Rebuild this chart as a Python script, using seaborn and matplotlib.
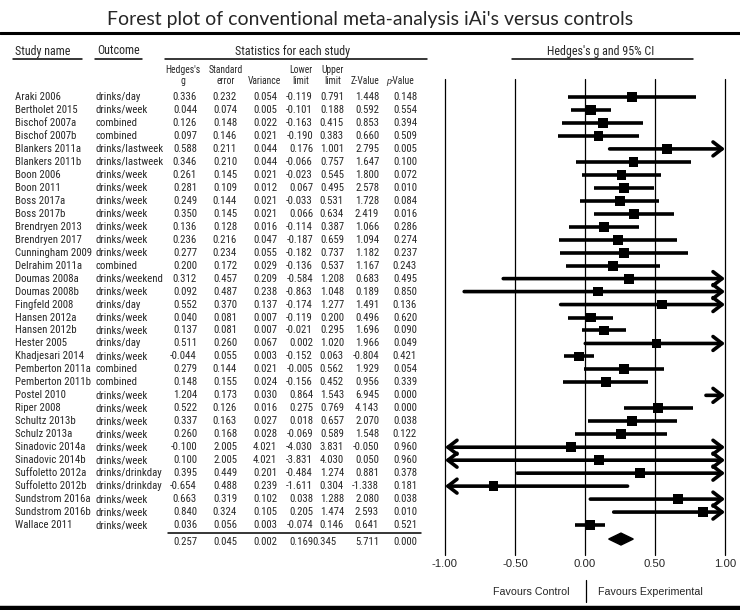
import numpy as np
import pandas as pd
import matplotlib
matplotlib.use("Agg")
import matplotlib.pyplot as plt
import matplotlib.transforms as mtransforms
from matplotlib.lines import Line2D
from matplotlib import font_manager
from matplotlib.textpath import TextPath
import seaborn as sns

studies = ["Araki 2006", "Bertholet 2015", "Bischof 2007a", "Bischof 2007b", "Blankers 2011a",
           "Blankers 2011b", "Boon 2006", "Boon 2011", "Boss 2017a", "Boss 2017b",
           "Brendryen 2013", "Brendryen 2017", "Cunningham 2009", "Delrahim 2011a", "Doumas 2008a",
           "Doumas 2008b", "Fingfeld 2008", "Hansen 2012a", "Hansen 2012b", "Hester 2005",
           "Khadjesari 2014", "Pemberton 2011a", "Pemberton 2011b", "Postel 2010", "Riper 2008",
           "Schultz 2013b", "Schulz 2013a", "Sinadovic 2014a", "Sinadovic 2014b", "Suffoletto 2012a",
           "Suffoletto 2012b", "Sundstrom 2016a", "Sundstrom 2016b", "Wallace 2011"]
outcomes = ["drinks/day", "drinks/week", "combined", "combined", "drinks/lastweek",
            "drinks/lastweek", "drinks/week", "drinks/week", "drinks/week", "drinks/week",
            "drinks/week", "drinks/week", "drinks/week", "combined", "drinks/weekend",
            "drinks/week", "drinks/day", "drinks/week", "drinks/week", "drinks/day",
            "drinks/week", "combined", "combined", "drinks/week", "drinks/week",
            "drinks/week", "drinks/week", "drinks/week", "drinks/week", "drinks/drinkday",
            "drinks/drinkday", "drinks/week", "drinks/week", "drinks/week"]
hedges_g = [0.336, 0.044, 0.126, 0.097, 0.588, 0.346, 0.261, 0.281, 0.249, 0.350,
            0.136, 0.236, 0.277, 0.200, 0.312, 0.092, 0.552, 0.040, 0.137, 0.511,
            -0.044, 0.279, 0.148, 1.204, 0.522, 0.337, 0.260, -0.100, 0.100, 0.395,
            -0.654, 0.663, 0.840, 0.036]
std_err = [0.232, 0.074, 0.148, 0.146, 0.211, 0.210, 0.145, 0.109, 0.144, 0.145,
           0.128, 0.216, 0.234, 0.172, 0.457, 0.487, 0.370, 0.081, 0.081, 0.260,
           0.055, 0.144, 0.155, 0.173, 0.126, 0.163, 0.168, 2.005, 2.005, 0.449,
           0.488, 0.319, 0.324, 0.056]
variance = [0.054, 0.005, 0.022, 0.021, 0.044, 0.044, 0.021, 0.012, 0.021, 0.021,
            0.016, 0.047, 0.055, 0.029, 0.209, 0.238, 0.137, 0.007, 0.007, 0.067,
            0.003, 0.021, 0.024, 0.030, 0.016, 0.027, 0.028, 4.021, 4.021, 0.201,
            0.239, 0.102, 0.105, 0.003]
lower = [-0.119, -0.101, -0.163, -0.190, 0.176, -0.066, -0.023, 0.067, -0.033, 0.066,
         -0.114, -0.187, -0.182, -0.136, -0.584, -0.863, -0.174, -0.119, -0.021, 0.002,
         -0.152, -0.005, -0.156, 0.864, 0.275, 0.018, -0.069, -4.030, -3.831, -0.484,
         -1.611, 0.038, 0.205, -0.074]
upper = [0.791, 0.188, 0.415, 0.383, 1.001, 0.757, 0.545, 0.495, 0.531, 0.634,
         0.387, 0.659, 0.737, 0.537, 1.208, 1.048, 1.277, 0.200, 0.295, 1.020,
         0.063, 0.562, 0.452, 1.543, 0.769, 0.657, 0.589, 3.831, 4.030, 1.274,
         0.304, 1.288, 1.474, 0.146]
z_value = [1.448, 0.592, 0.853, 0.660, 2.795, 1.647, 1.800, 2.578, 1.728, 2.419,
           1.066, 1.094, 1.182, 1.167, 0.683, 0.189, 1.491, 0.496, 1.696, 1.966,
           -0.804, 1.929, 0.956, 6.945, 4.143, 2.070, 1.548, -0.050, 0.050, 0.881,
           -1.338, 2.080, 2.593, 0.641]
p_value = [0.148, 0.554, 0.394, 0.509, 0.005, 0.100, 0.072, 0.010, 0.084, 0.016,
           0.286, 0.274, 0.237, 0.243, 0.495, 0.850, 0.136, 0.620, 0.090, 0.049,
           0.421, 0.054, 0.339, 0.000, 0.000, 0.038, 0.122, 0.960, 0.960, 0.378,
           0.181, 0.038, 0.010, 0.521]

summary_vals = [0.257, 0.045, 0.002, 0.169, 0.345, 5.711, 0.000]
xticks = [-1.0, -0.5, 0.0, 0.5, 1.0]

df = pd.DataFrame({"study": studies, "outcome": outcomes, "g": hedges_g, "se": std_err,
                   "var": variance, "lo": lower, "hi": upper, "z": z_value, "p": p_value})
df["row"] = np.arange(len(df))

sns.set_style("white")
plt.rcParams["font.family"] = ["Liberation Sans", "DejaVu Sans"]

# look for a narrow/condensed sans for the table (the original uses Arial Narrow look)
narrow_fp = None
wanted = ["liberationsansnarrow-regular", "arialnarrow", "robotocondensed-regular",
          "notosans-condensed.", "dejavusanscondensed.", "opensans-condensed"]
files = [f.fname for f in font_manager.fontManager.ttflist]
for key in wanted:
    hits = [fn for fn in files if key in fn.lower().replace(" ", "").replace("_", "")]
    if hits:
        narrow_fp = font_manager.FontProperties(fname=sorted(hits)[0])
        break
if narrow_fp is None:
    narrow_fp = font_manager.FontProperties(family="Liberation Sans")


def fit_size(fp, s, target_px):
    # font size (pt) that makes string s about target_px wide at 100 dpi
    w = TextPath((0, 0), s, size=10, prop=fp).get_extents().width * 100 / 72
    return 10 * target_px / w


def sized(fp, size):
    p = fp.copy()
    p.set_size(size)
    return p


body_size = (fit_size(narrow_fp, "Cunningham 2009", 70) + fit_size(narrow_fp, "0.336", 21.5)) / 2
body_fp = sized(narrow_fp, body_size * 1.07)
hdr_fp = sized(narrow_fp, fit_size(narrow_fp, "Statistics for each study", 114))
sub_fp = sized(narrow_fp, fit_size(narrow_fp, "Variance", 33))
title_fp = font_manager.FontProperties(family=["Lato", "DejaVu Sans"])
title_fp.set_size(fit_size(title_fp, "Forest plot of conventional meta-analysis iAi's versus controls", 521))

W, H = 740, 610
fig = plt.figure(figsize=(W / 100, H / 100), dpi=100)


def fx(px):
    return px / W


def fy(py):
    return 1 - py / H


# one row = 12.97 px, row 0 at y=97 px
ax = fig.add_axes([fx(445), fy(555), fx(725) - fx(445), (555 - 79) / H])
ax.set_xlim(-1, 1)
ax.set_ylim(35.31, -1.39)

for xv in xticks:
    ax.axvline(xv, color="black", lw=0.9, clip_on=False, zorder=1)

# CI lines, arrows where they leave the -1..1 window
for _, r in df.iterrows():
    left_out = r["lo"] < -1
    right_out = r["hi"] > 1
    x0 = max(r["lo"], -1)
    x1 = min(r["hi"], 1)
    if left_out and right_out:
        style = "<->"
    elif right_out:
        style = "->"
    elif left_out:
        style = "<-"
    else:
        style = None
    if style is None:
        ax.hlines(r["row"], x0, x1, color="black", lw=2.6, zorder=2)
    else:
        ax.annotate("", xy=(x1, r["row"]), xytext=(x0, r["row"]),
                    arrowprops=dict(arrowstyle=style + ",head_length=0.65,head_width=0.5",
                                    lw=2.6, color="black", shrinkA=0, shrinkB=0,
                                    mutation_scale=10),
                    annotation_clip=False, zorder=2)

sns.scatterplot(data=df, x="g", y="row", marker="s", s=50, color="black",
                edgecolor="none", ax=ax, zorder=3, legend=False)

# summary diamond
sg, slo, shi = summary_vals[0], summary_vals[3], summary_vals[4]
ys = 34.08
ax.fill([slo, sg, shi, sg], [ys, ys - 0.46, ys, ys + 0.46], color="black", zorder=3)

ax.set_xticks(xticks)
ax.set_xticklabels(["%.2f" % v for v in xticks], fontsize=8.2)
ax.tick_params(axis="x", length=0, pad=3)
ax.set_yticks([])
ax.set_xlabel("")
ax.set_ylabel("")
for sp in ax.spines.values():
    sp.set_visible(False)
ax.patch.set_alpha(0)

# table
trans = mtransforms.blended_transform_factory(fig.transFigure, ax.transData)
body = dict(fontproperties=body_fp, va="center", transform=trans, clip_on=False)
num_cols = ["g", "se", "var", "lo", "hi", "z", "p"]
right_edges = [197, 237, 277, 313, 344, 379, 417]
for _, r in df.iterrows():
    ax.text(fx(15), r["row"], r["study"], ha="left", **body)
    ax.text(fx(96), r["row"], r["outcome"], ha="left", **body)
    for col, xr in zip(num_cols, right_edges):
        ax.text(fx(xr), r["row"], "%.3f" % r[col], ha="right", **body)

srow = 34.31
sum_x = [197, 237, 277, 313, 312.5, 379, 417]
sum_ha = ["right", "right", "right", "right", "left", "right", "right"]
for v, xr, ha in zip(summary_vals, sum_x, sum_ha):
    ax.text(fx(xr), srow, "%.3f" % v, ha=ha, **body)

fig.add_artist(Line2D([fx(168), fx(421)], [fy(533), fy(533)], color="black", lw=1.1))

# headers
hdr = dict(fontproperties=hdr_fp, va="center")
fig.text(fx(15), fy(51), "Study name", ha="left", **hdr)
fig.text(fx(97), fy(51), "Outcome", ha="left", **hdr)
fig.text(fx(293), fy(51), "Statistics for each study", ha="center", **hdr)
fig.text(fx(601), fy(51), "Hedges's g and 95% CI", ha="center", **hdr)
for a, b in [(13, 82), (95, 142), (165, 427), (512, 693)]:
    fig.add_artist(Line2D([fx(a), fx(b)], [fy(58.5), fy(58.5)], color="black", lw=1.1))

sub = dict(fontproperties=sub_fp, va="center", ha="center")
sub_heads = [(183, "Hedges's", "g"), (226, "Standard", "error"), (264, None, "Variance"),
             (301, "Lower", "limit"), (333, "Upper", "limit"), (365, None, "Z-Value")]
for xc, top, bot in sub_heads:
    if top:
        fig.text(fx(xc), fy(70), top, **sub)
    fig.text(fx(xc), fy(81), bot, **sub)
fig.text(fx(386), fy(81), "p", style="italic", ha="left", va="center",
         family="Liberation Sans", fontsize=sub_fp.get_size() * 0.9)
fig.text(fx(391), fy(81), "-Value", fontproperties=sub_fp, ha="left", va="center")

# title and frame lines
fig.text(0.5, fy(20), "Forest plot of conventional meta-analysis iAi's versus controls",
         ha="center", va="center", fontproperties=title_fp)
fig.add_artist(Line2D([0, 1], [fy(33), fy(33)], color="black", lw=2.2))
fig.add_artist(Line2D([0, 1], [fy(607.5), fy(607.5)], color="black", lw=3.2))

# favours labels
fig.text(fx(570), fy(592), "Favours Control", ha="right", va="center", fontsize=7.7)
fig.text(fx(598), fy(592), "Favours Experimental", ha="left", va="center", fontsize=7.7)
fig.add_artist(Line2D([fx(586), fx(586)], [fy(580), fy(602)], color="black", lw=0.9))

fig.savefig("out.png", dpi=100)
